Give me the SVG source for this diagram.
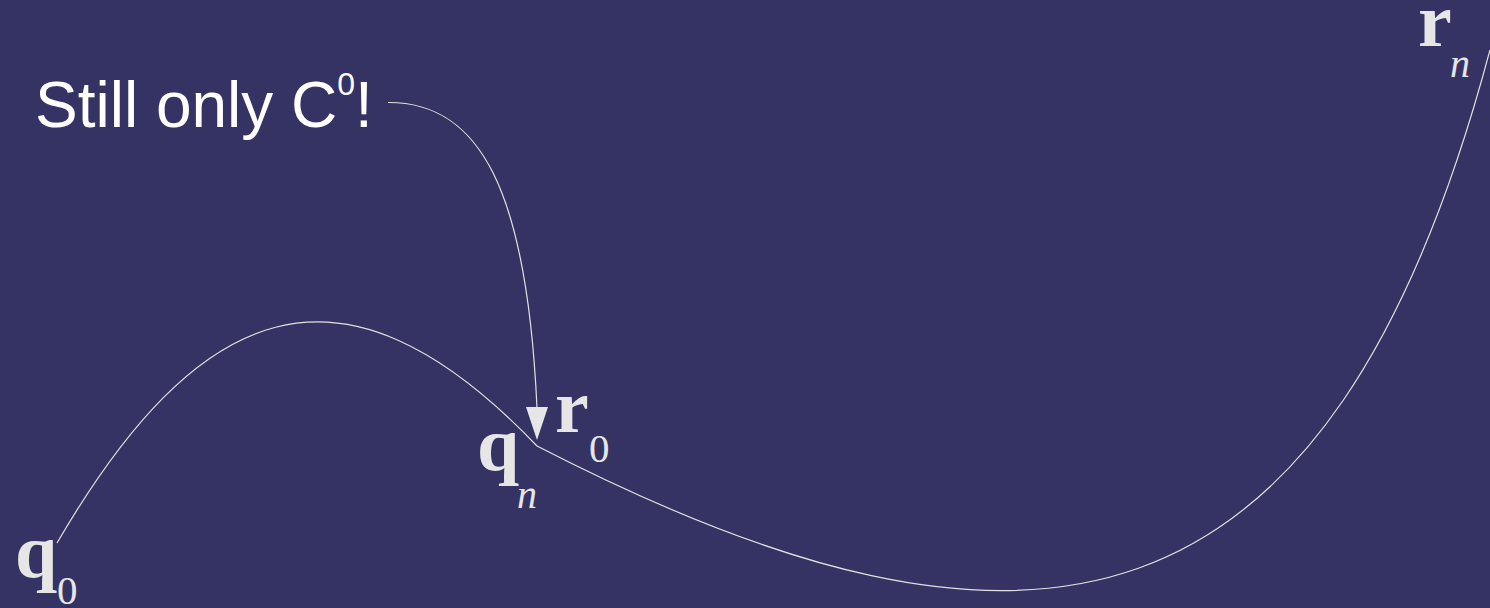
<svg xmlns="http://www.w3.org/2000/svg" width="1490" height="608" viewBox="0 0 1490 608">
  <style>
    .curve { fill: none; stroke: #e2e2e2; stroke-width: 1.2; }
    .bold { font-family: "Liberation Serif", serif; font-weight: bold; font-size: 76px; fill: #e6e6e6; }
    .sub { font-family: "Liberation Serif", serif; font-size: 41px; fill: #e6e6e6; }
    .subi { font-family: "Liberation Serif", serif; font-style: italic; font-size: 40px; fill: #e6e6e6; }
    .note { font-family: "Liberation Sans", Arial, sans-serif; font-size: 64px; fill: #ffffff; }
  </style>
  <rect x="0" y="0" width="1490" height="608" fill="#353363"/>
  <g id="connectors">
    <path id="curve-q" class="curve" d="M57,543 C197,303 340,240 537,446"/>
    <path id="curve-r" class="curve" d="M537,446 C1030,700 1330,650 1490,50"/>
    <path id="callout" class="curve" d="M388,102.5 C480,102 527,190 537,408"/>
    <polygon points="526,407 548,407 537,440" fill="#e6e6e6"/>
  </g>
  <g id="note">
    <text class="note" x="35" y="127">Still only C<tspan font-size="32" dy="-32">0</tspan><tspan dy="32">!</tspan></text>
  </g>
  <g id="q0">
    <text class="bold" x="15" y="577">q</text>
    <text class="sub" x="57" y="604">0</text>
  </g>
  <g id="qn">
    <text class="bold" x="477" y="470">q</text>
    <text class="subi" x="517" y="508">n</text>
  </g>
  <g id="r0">
    <text class="bold" x="555" y="432">r</text>
    <text class="sub" x="589" y="462">0</text>
  </g>
  <g id="rn">
    <text class="bold" x="1418" y="46">r</text>
    <text class="subi" x="1450" y="77">n</text>
  </g>
</svg>
